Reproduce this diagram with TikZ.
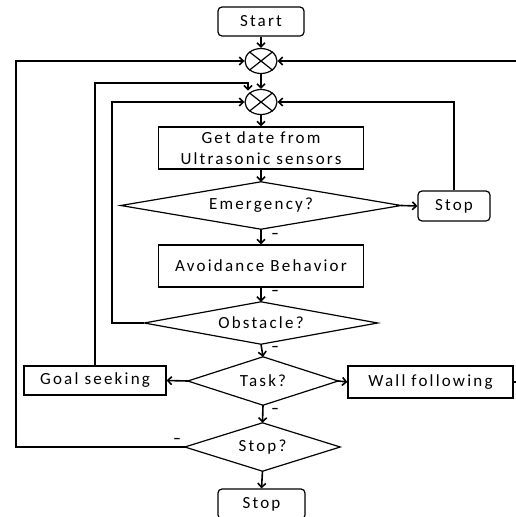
\documentclass[tikz,border=0pt]{standalone}
\usepackage{fontspec}
\setmainfont{Carlito}[LetterSpace=13]
\usetikzlibrary{arrows.meta,shapes.geometric}
\begin{document}
\begin{tikzpicture}[x=1pt,y=-1pt,
  font=\fontsize{17}{21.5}\selectfont,
  conn/.style={line width=1.6pt,-{Straight Barb[length=4pt,width=8pt]}},
  plain/.style={line width=1.6pt},
  boxstyle/.style={draw,line width=1.2pt,align=center,inner sep=0pt},
  roundbox/.style={boxstyle,rounded corners=4pt},
  dia/.style={inner sep=0pt,align=center},
  diaborder/.style={line width=1.2pt},
  junction/.style={draw,ellipse,line width=1.2pt,minimum width=32pt,minimum height=25pt,inner sep=0pt},
  minus/.style={inner sep=0pt,font=\fontsize{14}{14}\selectfont\bfseries}]

\useasboundingbox (0,0) rectangle (516,517);

% nodes
\node[roundbox,minimum width=86pt,minimum height=29pt] (start) at (261,21.5) {Start};
\node[junction] (c1) at (261,61) {};
\node[junction] (c2) at (261,102) {};
\node[boxstyle,minimum width=205pt,minimum height=42pt] (get) at (261,148) {Get date from\\Ultrasonic sensors};
\node[dia,minimum width=280pt,minimum height=47pt] (em) at (261,205.5) {Emergency?};
\node[roundbox,minimum width=72pt,minimum height=30pt] (stopR) at (454,206) {Stop};
\node[boxstyle,minimum width=205pt,minimum height=42pt] (avoid) at (261,266) {Avoidance Behavior};
\node[dia,minimum width=233pt,minimum height=42pt] (obst) at (261,323) {Obstacle?};
\node[dia,minimum width=150pt,minimum height=48pt] (task) at (263,381) {Task?};
\node[boxstyle,minimum width=142pt,minimum height=29pt] (goal) at (95,380.5) {Goal seeking};
\node[boxstyle,minimum width=165pt,minimum height=32pt] (wall) at (430.5,382) {Wall following};
\node[dia,minimum width=155pt,minimum height=48pt] (stopq) at (262.5,447) {Stop?};
\node[roundbox,minimum width=87pt,minimum height=30pt] (stopB) at (261.5,504) {Stop};

% diamond borders
\foreach \d in {em,obst,task,stopq}
  \draw[diaborder] (\d.west)--(\d.north)--(\d.east)--(\d.south)--cycle;

% junction crosses
\foreach \c in {c1,c2}
  \draw[line width=1.2pt] (\c.north west)--(\c.south east) (\c.north east)--(\c.south west);

% helper coordinates
\coordinate (L1) at (16,447);
\coordinate (G1) at (248,83);
\coordinate (L3) at (112,323);
\coordinate (R1) at (516,61);
\coordinate (R2) at (516,382);

% connectors
\draw[conn] (start) -- (c1);
\draw[conn] (c1) -- (c2);
\draw[conn] (c2) -- (get);
\draw[conn] (get.south) -- (em.north);
\draw[conn] (em.south) -- (avoid.north);
\draw[conn] (em.east) -- (stopR.west);
\draw[conn] (stopR.north) |- (c2.east);
\draw[conn] (avoid.south) -- (obst.north);
\draw[conn] (obst.west) -- (L3) |- (c2.west);
\draw[conn] (obst.south) -- (task.north);
\draw[conn] (task.west) -- (goal.east);
\draw[conn] (task.east) -- (wall.west);
\draw[conn] (goal.north) |- (G1) -- (G1 |- c2.125);
\draw[conn] (task.south) -- (stopq.north);
\draw[conn] (stopq.west) -- (L1) |- (c1.west);
\draw[conn] (stopq.south) -- (stopB.north);
\draw[conn] (R1) -- (c1.east);
\draw[plain] (wall.east) -- (R2);

% minus labels
\node[minus] (m1) at (275,236) {−};
\node[minus] (m2) at (275,293) {−};
\node[minus] (m3) at (275,349) {−};
\node[minus] (m4) at (275,411) {−};
\node[minus] (m5) at (177,441) {−};
\end{tikzpicture}
\end{document}
